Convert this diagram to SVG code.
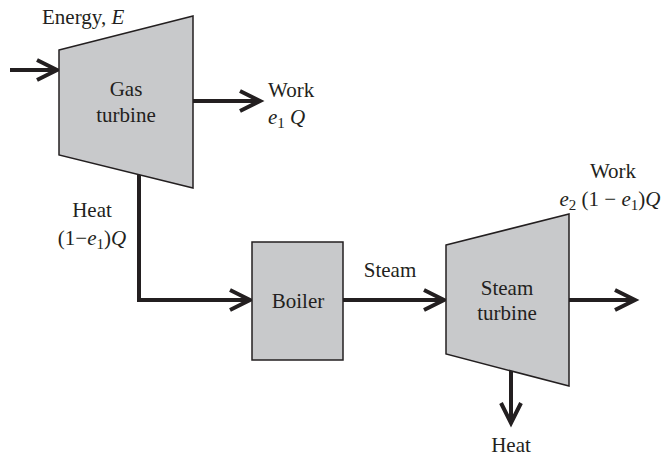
<svg xmlns="http://www.w3.org/2000/svg" width="661" height="460" viewBox="0 0 661 460">
<style>
text{font-family:"Liberation Serif","Times New Roman",serif;font-size:21px;fill:#231f20}
.i{font-style:italic}
.s{font-size:15px}
.shape{fill:#c8c9cb;stroke:#231f20;stroke-width:1.5;stroke-linejoin:miter}
.c{fill:none;stroke:#231f20;stroke-width:4;marker-end:url(#ah)}
</style>
<defs>
<marker id="ah" markerUnits="userSpaceOnUse" markerWidth="40" markerHeight="40" viewBox="-30 -20 40 40" refX="0" refY="0" orient="auto">
<path d="M-20,-10 L0,0 L-20,10" fill="none" stroke="#231f20" stroke-width="4"/>
</marker>
</defs>
<rect width="661" height="460" fill="#fff"/>
<g id="connectors">
<path class="c" d="M10,70 H57"/>
<path class="c" d="M193,101 H260"/>
<path class="c" d="M139,174 V300 H250"/>
<path class="c" d="M343,300 H444"/>
<path class="c" d="M569,300 H635"/>
<path class="c" d="M511,371 V423"/>
</g>
<g id="gas-turbine">
<polygon class="shape" points="59,50 193,16 193,188 59,155"/>
<text x="126" y="96" text-anchor="middle">Gas</text>
<text x="126" y="122" text-anchor="middle">turbine</text>
</g>
<g id="boiler">
<rect class="shape" x="252" y="242" width="91" height="118"/>
<text x="298" y="308" text-anchor="middle">Boiler</text>
</g>
<g id="steam-turbine">
<polygon class="shape" points="446,245 569,214 569,386 446,354"/>
<text x="507" y="295" text-anchor="middle">Steam</text>
<text x="507" y="320" text-anchor="middle">turbine</text>
</g>
<g id="labels">
<text x="42" y="24">Energy, <tspan class="i">E</tspan></text>
<text x="268" y="97">Work</text>
<text x="268" y="124"><tspan class="i">e</tspan><tspan class="s" dy="4">1</tspan><tspan dy="-4"> </tspan><tspan class="i">Q</tspan></text>
<text x="92" y="217" text-anchor="middle">Heat</text>
<text x="92" y="245" text-anchor="middle">(1−<tspan class="i">e</tspan><tspan class="s" dy="4">1</tspan><tspan dy="-4">)</tspan><tspan class="i">Q</tspan></text>
<text x="390" y="277" text-anchor="middle">Steam</text>
<text x="613" y="178" text-anchor="middle">Work</text>
<text x="610" y="206" text-anchor="middle"><tspan class="i">e</tspan><tspan class="s" dy="4">2</tspan><tspan dy="-4"> (1 − </tspan><tspan class="i">e</tspan><tspan class="s" dy="4">1</tspan><tspan dy="-4">)</tspan><tspan class="i">Q</tspan></text>
<text x="511" y="452" text-anchor="middle">Heat</text>
</g>
</svg>
